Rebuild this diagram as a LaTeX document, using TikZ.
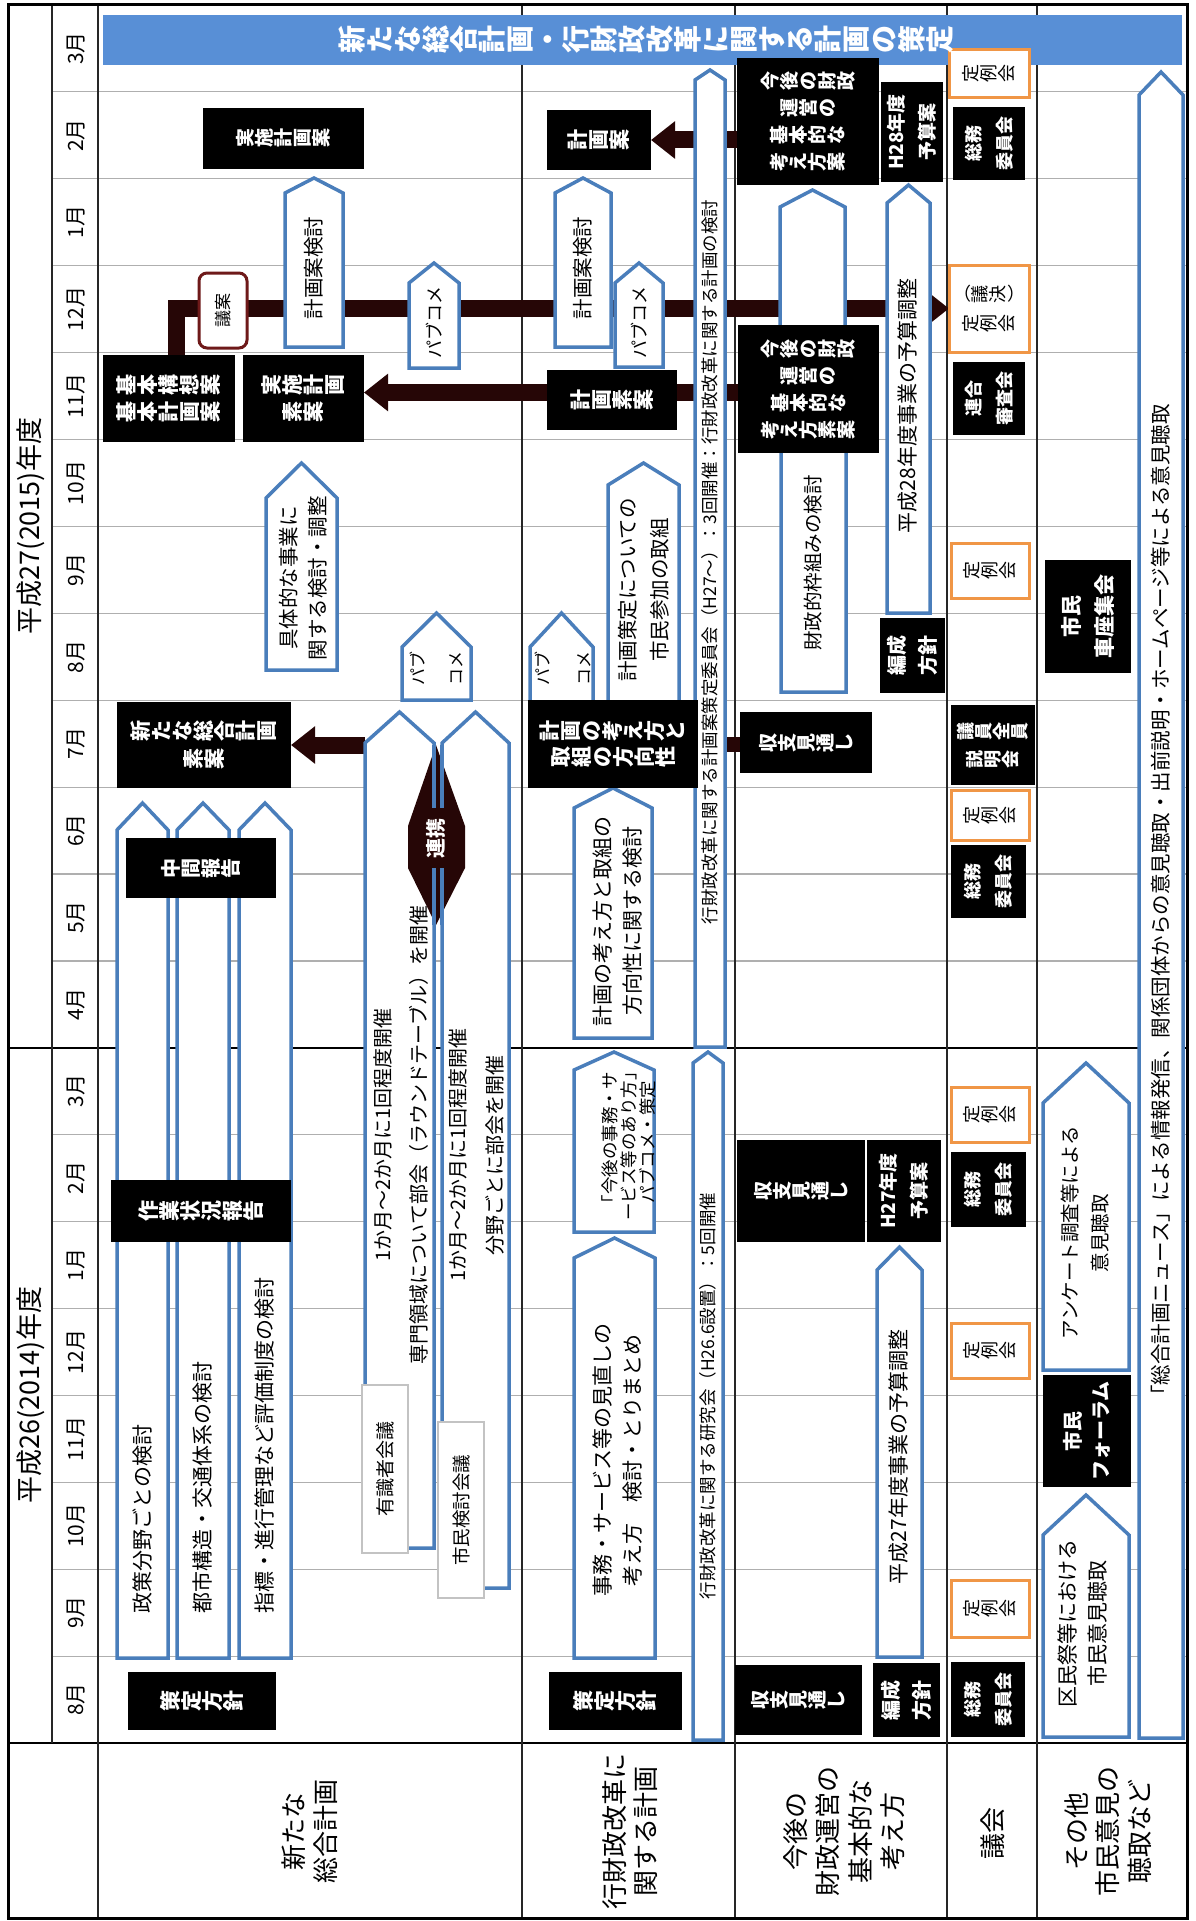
\documentclass[tikz,border=0pt]{standalone}
\usepackage{fontspec}
\setmainfont{Noto Sans CJK JP}
\usetikzlibrary{arrows.meta}
\definecolor{blueline}{RGB}{74,126,187}
\definecolor{barblue}{RGB}{88,143,214}
\definecolor{orangec}{RGB}{240,150,70}
\definecolor{arrowc}{RGB}{38,6,6}
\definecolor{gianc}{RGB}{110,25,25}
\definecolor{gridc}{RGB}{175,175,175}
\definecolor{grayb}{RGB}{195,195,195}
\pgfdeclarelayer{gridlayer}
\pgfdeclarelayer{arrowlayer}
\pgfsetlayers{gridlayer,arrowlayer,main}
\newcommand\fs[2]{\fontsize{#1}{#2}\selectfont}
\makeatletter
\def\vt@dash{ー}\def\vt@lp{（}\def\vt@rp{）}
\newcommand\vt[1]{\@tfor\vt@c:=#1\do{\vt@one}}
\def\vt@one{%
  \ifx\vt@c\vt@dash\vt@up\else
  \ifx\vt@c\vt@lp\vt@up\else
  \ifx\vt@c\vt@rp\vt@up\else
  \vt@rot\fi\fi\fi}
\def\vt@rot{\rotatebox[origin=c]{90}{\makebox[1em]{\vrule width 0pt height .88em depth .12em\vt@c}}}
\def\vt@up{\makebox[1em]{\vrule width 0pt height .88em depth .12em\vt@c}}
\makeatother
\newcommand\rbox[6]{\node[#1, minimum width={(#5-#3)*1pt}, minimum height={(#6-#4)*1pt}] (#2) at ({(#3+#5)/2},{(#4+#6)/2}) {};}
\newcommand\pent[6]{\draw[pentline] (#2,#6) -- (#2,#5) -- ({(#2+#3)/2},#4) -- (#3,#5) -- (#3,#6) -- cycle;
  \node[minimum width={(#3-#2)*1pt}, minimum height={(#6-#5)*1pt}] (#1) at ({(#2+#3)/2},{(#5+#6)/2}) {};}
\begin{document}
\begin{tikzpicture}[x=1pt,y=-1pt,
  every node/.style={inner sep=0pt, outer sep=0pt},
  gridline/.style={draw=gridc, line width=1.2pt},
  colline/.style={draw=black!85, line width=1.8pt},
  thickline/.style={draw=black, line width=2.6pt},
  pentline/.style={draw=blueline, fill=white, line width=3.5pt, line join=miter},
  blackbox/.style={fill=black, draw=none},
  orangebox/.style={fill=white, draw=orangec, line width=3pt},
  graybox/.style={fill=white, draw=grayb, line width=1.5pt},
  gianbox/.style={fill=white, draw=gianc, line width=3pt, rounded corners=8pt},
  wt/.style={text=white, align=center, execute at begin node=\bfseries},
  kt/.style={text=black, align=center},
  bigarrow/.style={draw=arrowc, line width=17pt, -{Triangle[length=24pt,width=36pt]}},
  bigline/.style={draw=arrowc, line width=15pt},
]
\useasboundingbox (0,0) rectangle (1195,1921);
\begin{pgfonlayer}{gridlayer}
\fill[white] (0,0) rectangle (1195,1921);
\foreach \i in {1,...,11,13,14,...,19} \draw[gridline] (52,{5+86.9*\i}) -- (1187,{5+86.9*\i});
\draw[thickline] (8,1048) -- (1187,1048);
\draw[thickline] (8,1743) -- (1187,1743);
\draw[colline] (52,5) -- (52,1743);
\foreach \x in {98,522,735,947,1037} \draw[colline] (\x,5) -- (\x,1918);
\draw[draw=black, line width=3pt] (8,5) rectangle (1187,1918);
\end{pgfonlayer}

% month and year labels
\foreach \m [count=\i from 0] in {3,2,1,12,11,10,9,8,7,6,5,4,3,2,1,12,11,10,9,8}
  \node[kt, rotate=90, font=\fs{21}{24}] (mon\i) at (76,{5+86.9*(\i+0.5)}) {\m 月};
\node[kt, rotate=90, font=\fs{27}{30}] (yr27) at (31,526) {平成27(2015)年度};
\node[kt, rotate=90, font=\fs{27}{30}] (yr26) at (31,1395) {平成26(2014)年度};

% blue bar
\rbox{fill=barblue}{bar}{103}{15}{1182}{65}

% pentagons
\pent{kentou1}{285}{343}{178}{193}{347}
\pent{pub1}{409}{459}{263}{283}{368}
\pent{gutai}{266}{337}{463}{498}{670}
\pent{pub2}{402}{471}{613}{647}{700}
\pent{yushiki}{365}{434}{712}{743}{1548}
\pent{shimin}{442}{509}{712}{743}{1588}
\pent{pA}{117}{168}{803}{830}{1658}
\pent{pB}{177}{229}{803}{830}{1658}
\pent{pC}{239}{291}{803}{830}{1658}
\pent{kentou2}{555}{611}{178}{193}{347}
\pent{pub3}{615}{663}{263}{283}{367}
\pent{gz27}{695}{725}{70}{80}{1047}
\pent{pub4}{530}{593}{613}{647}{712}
\pent{sanka}{608}{679}{463}{485}{702}
\pent{kangae}{574}{652}{788}{808}{1038}
\pent{jimu}{574}{654}{1052}{1070}{1232}
\pent{minaoshi}{574}{655}{1238}{1258}{1658}
\pent{gz26}{693}{723}{1052}{1063}{1740}
\pent{zaiseip}{780}{845}{190}{207}{330}
\pent{wakugumi}{781}{846}{420}{440}{692}
\pent{yosan28}{887}{930}{185}{203}{613}
\pent{yosan27}{877}{922}{1247}{1270}{1657}
\pent{news}{1139}{1183}{72}{95}{1738}
\pent{enquete}{1043}{1129}{1063}{1103}{1370}
\pent{kumin}{1043}{1129}{1495}{1535}{1737}

% renkei double arrow
\fill[arrowc] (436,745) -- (465,826) -- (465,868) -- (436,925) -- (408,868) -- (408,826) -- cycle;
\draw[draw=blueline, line width=3.5pt] (434,745) -- (434,808) (442,745) -- (442,808) (434,868) -- (434,925) (442,868) -- (442,925);

% boxes
\rbox{blackbox}{jisshian}{203}{108}{364}{169}
\rbox{gianbox}{gian}{199}{273}{247}{348}
\rbox{blackbox}{kihon}{103}{355}{235}{442}
\rbox{blackbox}{jsoan}{243}{355}{364}{442}
\rbox{blackbox}{arata}{117}{702}{291}{788}
\rbox{blackbox}{chukan}{126}{838}{276}{898}
\rbox{blackbox}{sagyo}{111}{1180}{291}{1242}
\rbox{blackbox}{sakutei1}{128}{1672}{276}{1730}
\rbox{graybox}{yushikisha}{362}{1385}{408}{1553}
\rbox{graybox}{shiminkaigi}{438}{1422}{484}{1598}
\rbox{blackbox}{keikakuan}{547}{110}{651}{170}
\rbox{blackbox}{keikakusoan}{547}{370}{677}{430}
\rbox{blackbox}{hoko}{528}{700}{698}{788}
\rbox{blackbox}{sakutei2}{549}{1672}{682}{1730}
\rbox{blackbox}{zaiseian}{737}{58}{879}{185}
\rbox{blackbox}{h28}{881}{82}{943}{182}
\rbox{blackbox}{zaiseisoan}{738}{325}{879}{453}
\rbox{blackbox}{hensei27}{880}{618}{945}{693}
\rbox{blackbox}{shushi27}{740}{712}{872}{773}
\rbox{blackbox}{shushi26a}{737}{1140}{865}{1242}
\rbox{blackbox}{h27}{867}{1140}{941}{1242}
\rbox{blackbox}{shushi26b}{735}{1665}{862}{1735}
\rbox{blackbox}{hensei26}{873}{1663}{940}{1737}
\rbox{orangebox}{teirei1}{949}{50}{1029}{98}
\rbox{blackbox}{somu1}{953}{107}{1025}{180}
\rbox{orangebox}{giketsu}{949}{265}{1029}{352}
\rbox{blackbox}{rengo}{953}{362}{1025}{435}
\rbox{orangebox}{teirei2}{951}{543}{1029}{598}
\rbox{blackbox}{giin}{951}{705}{1035}{785}
\rbox{orangebox}{teirei3}{951}{790}{1029}{840}
\rbox{blackbox}{somu2}{951}{845}{1026}{918}
\rbox{orangebox}{teirei4}{951}{1087}{1029}{1142}
\rbox{blackbox}{somu3}{951}{1152}{1026}{1227}
\rbox{orangebox}{teirei5}{951}{1323}{1029}{1378}
\rbox{orangebox}{teirei6}{951}{1580}{1029}{1637}
\rbox{blackbox}{somu4}{951}{1662}{1025}{1737}
\rbox{blackbox}{kurumaza}{1045}{560}{1131}{673}
\rbox{blackbox}{forum}{1043}{1375}{1131}{1487}

% texts
\node[wt, font=\fs{28}{30}] (bar-t) at (646,40) {\vt{新たな総合計画・行財政改革に関する計画の策定}};
\node[wt, font=\fs{19}{26}] (jisshian-t) at (jisshian) {\vt{実施計画案}};
\node[kt, rotate=90, font=\fs{20.5}{24}] (kentou1-t) at (314,268) {計画案検討};
\node[kt, rotate=90, font=\fs{17}{20}] (gian-t) at (gian) {議案};
\node[kt, rotate=90, font=\fs{18}{20}] (pub1-t) at (434,322) {パブコメ};
\node[wt, font=\fs{21}{27}] (kihon-t) at (kihon) {\vt{基本構想案}\\\vt{基本計画案}};
\node[wt, font=\fs{21}{27}] (jsoan-t) at (jsoan) {\vt{実施計画}\\\vt{素案}};
\node[kt, rotate=90, font=\fs{20.5}{29}] (gutai-t) at (303,578) {具体的な事業に\\関する検討・調整};
\node[kt, rotate=90, font=\fs{17}{38}] (pub2-t) at (436,668) {パブ\\コメ};
\node[wt, font=\fs{21}{28}] (arata-t) at (arata) {\vt{新たな総合計画}\\\vt{素案}};
\node[kt, rotate=90, font=\fs{20}{36}] (yushiki-t) at (401,1135) {1か月～2か月に1回程度開催\\専門領域について部会（ラウンドテーブル）を開催};
\node[kt, rotate=90, font=\fs{20}{37}] (shimin-t) at (476,1155) {1か月～2か月に1回程度開催\\分野ごとに部会を開催};
\node[wt, rotate=90, font=\fs{20}{22}] (renkei-t) at (436,838) {連携};
\node[kt, rotate=90, anchor=west, font=\fs{21}{24}] (pA-t) at (142.5,1613) {政策分野ごとの検討};
\node[kt, rotate=90, anchor=west, font=\fs{21}{24}] (pB-t) at (203,1613) {都市構造・交通体系の検討};
\node[kt, rotate=90, anchor=west, font=\fs{21}{24}] (pC-t) at (265,1613) {指標・進行管理など評価制度の検討};
\node[wt, font=\fs{20}{24}] (chukan-t) at (chukan) {\vt{中間報告}};
\node[wt, font=\fs{21}{24}] (sagyo-t) at (sagyo) {\vt{作業状況報告}};
\node[wt, font=\fs{21}{24}] (sakutei1-t) at (sakutei1) {\vt{策定方針}};
\node[kt, rotate=90, font=\fs{19}{22}] (yushikisha-t) at (yushikisha) {有識者会議};
\node[kt, rotate=90, font=\fs{18.5}{22}] (shiminkaigi-t) at (shiminkaigi) {市民検討会議};

\node[wt, font=\fs{21}{24}] (keikakuan-t) at (keikakuan) {\vt{計画案}};
\node[kt, rotate=90, font=\fs{20.5}{24}] (kentou2-t) at (583,268) {計画案検討};
\node[kt, rotate=90, font=\fs{18}{20}] (pub3-t) at (639,322) {パブコメ};
\node[kt, rotate=90, font=\fs{17.5}{20}] (gz27-t) at (710,562) {行財政改革に関する計画案策定委員会（H27～）：3回開催：行財政改革に関する計画の検討};
\node[wt, font=\fs{21}{24}] (keikakusoan-t) at (keikakusoan) {\vt{計画素案}};
\node[kt, rotate=90, font=\fs{17}{41}] (pub4-t) at (563,668) {パブ\\コメ};
\node[kt, rotate=90, font=\fs{20.5}{32}] (sanka-t) at (644,590) {計画策定についての\\市民参加の取組};
\node[wt, font=\fs{21}{26}] (hoko-t) at (hoko) {\vt{計画の考え方と}\\\vt{取組の方向性}};
\node[kt, rotate=90, font=\fs{21}{30}] (kangae-t) at (618,921) {計画の考え方と取組の\\方向性に関する検討};
\node[kt, rotate=90, font=\fs{17.5}{19}] (jimu-t) at (629,1142) {「今後の事務・サ\\ービス等のあり方」\\パブコメ・策定};
\node[kt, rotate=90, font=\fs{21}{30}] (minaoshi-t) at (618,1460) {事務・サービス等の見直しの\\考え方　検討・とりまとめ};
\node[kt, rotate=90, font=\fs{17.5}{20}] (gz26-t) at (708,1396) {行財政改革に関する研究会（H26.6設置）：5回開催};
\node[wt, font=\fs{21}{24}] (sakutei2-t) at (sakutei2) {\vt{策定方針}};

\node[wt, font=\fs{19}{27}] (zaiseian-t) at (zaiseian) {\vt{今後の財政}\\\vt{運営の}\\\vt{基本的な}\\\vt{考え方案}};
\node[wt, rotate=90, font=\fs{19}{31}] (h28-t) at (h28) {H28年度\\予算案};
\node[wt, font=\fs{19}{27}] (zaiseisoan-t) at (zaiseisoan) {\vt{今後の財政}\\\vt{運営の}\\\vt{基本的な}\\\vt{考え方素案}};
\node[kt, rotate=90, font=\fs{19.5}{22}] (wakugumi-t) at (813,563) {財政的枠組みの検討};
\node[kt, rotate=90, font=\fs{21}{24}] (yosan28-t) at (908,406) {平成28年度事業の予算調整};
\node[wt, rotate=90, font=\fs{20}{31}] (hensei27-t) at (hensei27) {編成\\方針};
\node[wt, font=\fs{19}{24}] (shushi27-t) at (shushi27) {\vt{収支見通し}};
\node[wt, font=\fs{19}{24}] (shushi26a-t) at (shushi26a) {\vt{収支見通し}};
\node[wt, rotate=90, font=\fs{19}{31}] (h27-t) at (h27) {H27年度\\予算案};
\node[kt, rotate=90, font=\fs{21}{24}] (yosan27-t) at (899,1457) {平成27年度事業の予算調整};
\node[wt, font=\fs{19}{24}] (shushi26b-t) at (shushi26b) {\vt{収支見通し}};
\node[wt, rotate=90, font=\fs{20}{31}] (hensei26-t) at (hensei26) {編成\\方針};

\foreach \n in {teirei1,teirei2,teirei3,teirei4,teirei5,teirei6}
  \node[kt, font=\fs{18}{24}] (\n-t) at (\n) {\vt{定例会}};
\node[kt, font=\fs{18}{29}] (giketsu-t) at (giketsu) {\vt{（議決）}\\\vt{定例会}};
\foreach \n in {somu1,somu2,somu3,somu4}
  \node[wt, rotate=90, font=\fs{18}{31}] (\n-t) at (\n) {総務\\委員会};
\node[wt, rotate=90, font=\fs{18}{31}] (rengo-t) at (rengo) {連合\\審査会};
\node[wt, font=\fs{18}{28}] (giin-t) at (giin) {\vt{議員全員}\\\vt{説明会}};

\node[kt, rotate=90, font=\fs{20.5}{24}] (news-t) at (1161,905) {「総合計画ニュース」による情報発信、関係団体からの意見聴取・出前説明・ホームページ等による意見聴取};
\node[wt, rotate=90, font=\fs{21}{33}] (kurumaza-t) at (kurumaza) {市民\\車座集会};
\node[kt, rotate=90, font=\fs{19.5}{30}] (enquete-t) at (1085,1233) {アンケート調査等による\\意見聴取};
\node[wt, rotate=90, font=\fs{20}{28}] (forum-t) at (forum) {市民\\フォーラム};
\node[kt, rotate=90, font=\fs{21}{30}] (kumin-t) at (1082,1623) {区民祭等における\\市民意見聴取};

% category row
\node[kt, rotate=90, font=\fs{26}{32}] (cat1) at (310,1831) {新たな\\総合計画};
\node[kt, rotate=90, font=\fs{26}{31}] (cat2) at (630,1831) {行財政改革に\\関する計画};
\node[kt, rotate=90, font=\fs{26}{32.5}] (cat3) at (844,1831) {今後の\\財政運営の\\基本的な\\考え方};
\node[kt, rotate=90, font=\fs{26}{30}] (cat4) at (993,1833) {議会};
\node[kt, rotate=90, font=\fs{26}{31.5}] (cat5) at (1108,1831) {その他\\市民意見の\\聴取など};

% arrows
\coordinate (jsoanE) at ([yshift=6pt]jsoan.east);
\begin{pgfonlayer}{arrowlayer}
\draw[bigarrow] (zaiseian.west |- keikakuan.east) -- (keikakuan.east);
\draw[bigarrow] (zaiseisoan.west |- jsoanE) -- (jsoanE);
\draw[bigarrow, line join=miter] ([xshift=7pt]kihon.north) |- (giketsu.west);
\draw[bigarrow] (yushiki.west |- arata.east) -- (arata.east);
\draw[bigline] (hoko.east) -- (shushi27.west |- hoko.east);
\end{pgfonlayer}
\end{tikzpicture}
\end{document}
